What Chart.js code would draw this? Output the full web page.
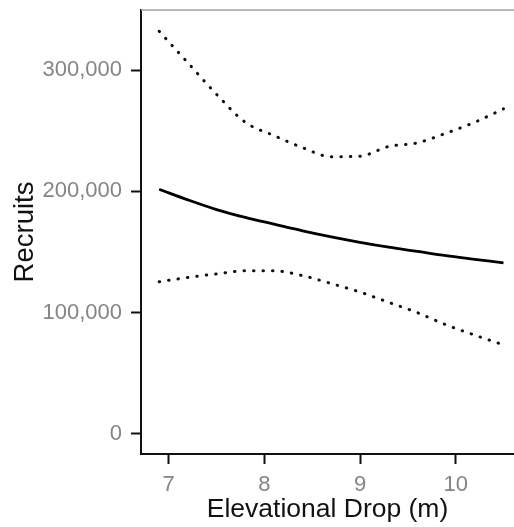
<!DOCTYPE html>
<html>
<head>
<meta charset="utf-8">
<script src="https://cdn.jsdelivr.net/npm/chart.js@4"></script>
<style>
  html, body { margin: 0; padding: 0; background: #fff; }
  #wrap { width: 514px; height: 527px; }
</style>
</head>
<body>
<div id="wrap"><canvas id="chart" width="514" height="527"></canvas></div>
<script>
// Elevational drop (m) sample points
const drop = [6.9, 7.2, 7.5, 7.8, 8.1, 8.4, 8.7, 9.0, 9.3, 9.6, 9.9, 10.2, 10.5];
// fitted recruits and its confidence band
const fitted = [201700, 193000, 185000, 178500, 173000, 167500, 162500, 158000, 154000, 150500, 147000, 144000, 141000];
const upper = [332000, 306000, 280000, 257000, 246000, 236000, 228500, 229000, 237000, 240000, 248000, 257000, 268000];
const lower = [125500, 129000, 132000, 134500, 134500, 130500, 124000, 117000, 108500, 100000, 90000, 81500, 73500];

const xTicks = [7, 8, 9, 10];
const yTicks = [0, 100000, 200000, 300000];

const toPoints = arr => arr.map((v, i) => ({ x: drop[i], y: v }));

const gray = '#858585';
const fontFamily = '"Liberation Sans", Arial, sans-serif';

// top frame line of the panel
const frameTop = {
  id: 'frameTop',
  afterDraw(chart) {
    const { ctx, chartArea } = chart;
    ctx.save();
    ctx.strokeStyle = '#a0a0a0';
    ctx.lineWidth = 1.5;
    ctx.beginPath();
    ctx.moveTo(chartArea.left, chartArea.top);
    ctx.lineTo(chartArea.right, chartArea.top);
    ctx.stroke();
    ctx.restore();
  }
};

new Chart(document.getElementById('chart'), {
  type: 'line',
  data: {
    datasets: [
      {
        label: 'Upper',
        data: toPoints(upper),
        borderColor: '#111',
        borderWidth: 3,
        borderDash: [0.5, 9],
        borderCapStyle: 'round',
        pointRadius: 0,
        cubicInterpolationMode: 'monotone'
      },
      {
        label: 'Fitted',
        data: toPoints(fitted),
        borderColor: '#000',
        borderWidth: 2.8,
        pointRadius: 0,
        cubicInterpolationMode: 'monotone'
      },
      {
        label: 'Lower',
        data: toPoints(lower),
        borderColor: '#111',
        borderWidth: 3,
        borderDash: [0.5, 9],
        borderCapStyle: 'round',
        pointRadius: 0,
        cubicInterpolationMode: 'monotone'
      }
    ]
  },
  options: {
    responsive: false,
    animation: false,
    layout: { padding: { top: 10, right: 0, bottom: 0, left: 0 } },
    plugins: {
      legend: { display: false },
      tooltip: { enabled: false }
    },
    scales: {
      x: {
        type: 'linear',
        min: 6.71,
        max: 10.61,
        afterBuildTicks: scale => { scale.ticks = xTicks.map(v => ({ value: v })); },
        afterFit: scale => { scale.height = 73; scale.paddingLeft = 0; scale.paddingRight = 0; },
        border: { display: true, color: '#111', width: 2 },
        grid: {
          display: true,
          drawOnChartArea: false,
          drawTicks: true,
          tickLength: 10,
          tickWidth: 2,
          tickColor: '#111'
        },
        ticks: {
          color: gray,
          padding: 8,
          font: { family: fontFamily, size: 22 }
        },
        title: {
          display: true,
          text: 'Elevational Drop (m)',
          color: '#111',
          font: { family: fontFamily, size: 26.5 },
          padding: { top: 0, bottom: 1 }
        }
      },
      y: {
        min: -16500,
        max: 349500,
        afterBuildTicks: scale => { scale.ticks = yTicks.map(v => ({ value: v })); },
        afterFit: scale => { scale.width = 141; scale.paddingTop = 0; scale.paddingBottom = 0; },
        border: { display: true, color: '#111', width: 2 },
        grid: {
          display: true,
          drawOnChartArea: false,
          drawTicks: true,
          tickLength: 10,
          tickWidth: 2,
          tickColor: '#111'
        },
        ticks: {
          color: gray,
          padding: 9,
          font: { family: fontFamily, size: 22 },
          callback: v => v.toLocaleString('en-US')
        },
        title: {
          display: true,
          text: 'Recruits',
          color: '#111',
          font: { family: fontFamily, size: 27.5 },
          padding: { top: 9, bottom: 0 }
        }
      }
    }
  },
  plugins: [frameTop]
});
</script>
</body>
</html>
